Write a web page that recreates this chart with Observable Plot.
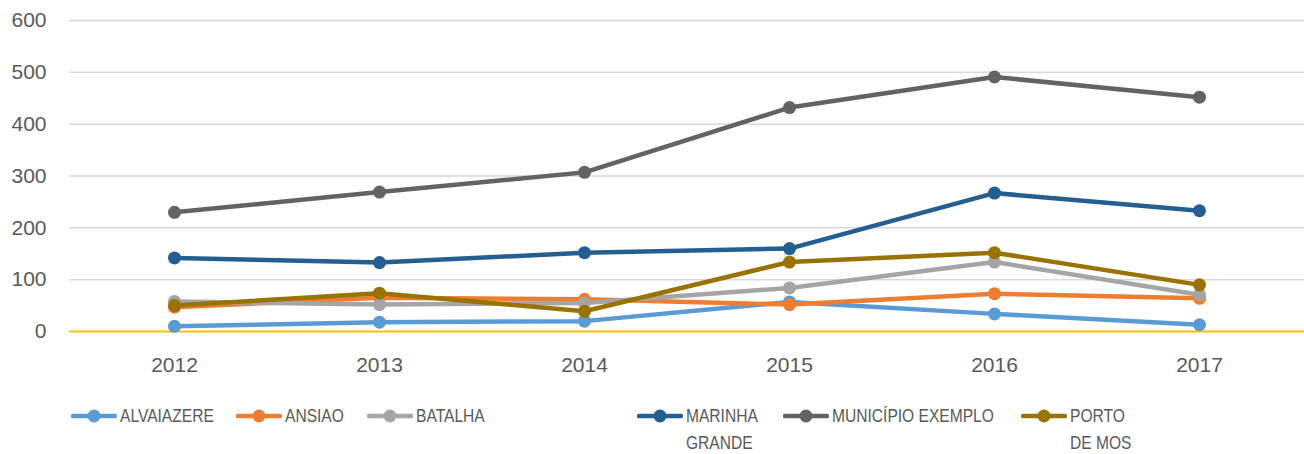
<!DOCTYPE html>
<html>
<head>
<meta charset="utf-8">
<script src="https://cdn.jsdelivr.net/npm/d3@7"></script>
<script src="https://cdn.jsdelivr.net/npm/@observablehq/plot@0.6"></script>
<style>
  html, body { margin: 0; padding: 0; background: #fff; }
  #wrap { position: relative; width: 1304px; height: 454px; overflow: hidden; }
  #chart { position: absolute; left: 0; top: 0; }
  .leg { position: absolute; top: 402px; display: flex; align-items: flex-start; }
  .leg svg { flex: none; margin-top: 3px; }
  .leg span { font-family: "Liberation Sans", Arial, sans-serif; font-size: 19px; color: #595959; line-height: 27px; margin-left: 3px; transform: scaleX(0.82); transform-origin: 0 0; display: inline-block; }
</style>
</head>
<body>
<div id="wrap"><div id="chart"></div></div>
<script>
const years = ["2012", "2013", "2014", "2015", "2016", "2017"];
const seriesNames = ["ALVAIAZERE", "ANSIAO", "BATALHA", "MARINHA GRANDE", "MUNICÍPIO EXEMPLO", "PORTO DE MOS"];
const seriesColors = ["#5B9BD5", "#ED7D31", "#A5A5A5", "#255E91", "#636363", "#997300"];
const alvaiazere = [10, 18, 20, 57, 34, 13];
const ansiao = [47, 65, 62, 52, 73, 64];
const batalha = [58, 52, 55, 84, 134, 71];
const marinhaGrande = [142, 133, 152, 160, 267, 233];
const municipioExemplo = [230, 269, 307, 432, 491, 452];
const portoDeMos = [50, 74, 39, 134, 152, 90];
const yTicks = [0, 100, 200, 300, 400, 500, 600];

const seriesValues = [alvaiazere, ansiao, batalha, marinhaGrande, municipioExemplo, portoDeMos];
const data = seriesNames.flatMap((name, i) =>
  years.map((year, j) => ({ name, year, value: seriesValues[i][j] })));

const font = "'Liberation Sans', Arial, sans-serif";
const chart = Plot.plot({
  width: 1304,
  height: 380,
  marginLeft: 69,
  marginRight: 0,
  marginTop: 20,
  marginBottom: 49,
  style: { fontFamily: font, fontSize: "21px", color: "#595959", background: "#fff" },
  x: { type: "point", domain: years, padding: 0.5, label: null },
  y: { domain: [0, 600], ticks: yTicks, label: null },
  color: { domain: seriesNames, range: seriesColors },
  marks: [
    Plot.ruleY(yTicks.filter(d => d > 0), { stroke: "#D9D9D9", strokeWidth: 1.5 }),
    Plot.ruleY([0], { stroke: "#FFC000", strokeWidth: 2 }),
    Plot.axisY({ ticks: yTicks, tickSize: 0, tickPadding: 23, fontSize: 21, fill: "#595959", label: null }),
    Plot.axisX({ tickSize: 0, tickPadding: 26, fontSize: 21, fill: "#595959", label: null }),
    ...seriesNames.map(name => Plot.line(data.filter(d => d.name === name), {
      x: "year", y: "value", stroke: "name", strokeWidth: 4.5, strokeLinejoin: "round", strokeLinecap: "round"
    })),
    ...seriesNames.map(name => Plot.dot(data.filter(d => d.name === name), {
      x: "year", y: "value", fill: "name", r: 6.5
    }))
  ]
});
document.getElementById("chart").appendChild(chart);

// legend
const legendLeft = [71, 236, 367, 637, 783, 1021];
const legendWidth = [160, 120, 140, 120, 260, 88];
const wrap = document.getElementById("wrap");
seriesNames.forEach((name, i) => {
  const item = document.createElement("div");
  item.className = "leg";
  item.style.left = legendLeft[i] + "px";
  const ns = "http://www.w3.org/2000/svg";
  const s = document.createElementNS(ns, "svg");
  s.setAttribute("width", 46); s.setAttribute("height", 22);
  const ln = document.createElementNS(ns, "line");
  ln.setAttribute("x1", 2); ln.setAttribute("x2", 44); ln.setAttribute("y1", 11); ln.setAttribute("y2", 11);
  ln.setAttribute("stroke", seriesColors[i]); ln.setAttribute("stroke-width", 4.5); ln.setAttribute("stroke-linecap", "round");
  const c = document.createElementNS(ns, "circle");
  c.setAttribute("cx", 23); c.setAttribute("cy", 11); c.setAttribute("r", 6.5); c.setAttribute("fill", seriesColors[i]);
  s.appendChild(ln); s.appendChild(c);
  const t = document.createElement("span");
  t.textContent = name;
  t.style.width = legendWidth[i] + "px";
  item.appendChild(s); item.appendChild(t);
  wrap.appendChild(item);
});
</script>
</body>
</html>
